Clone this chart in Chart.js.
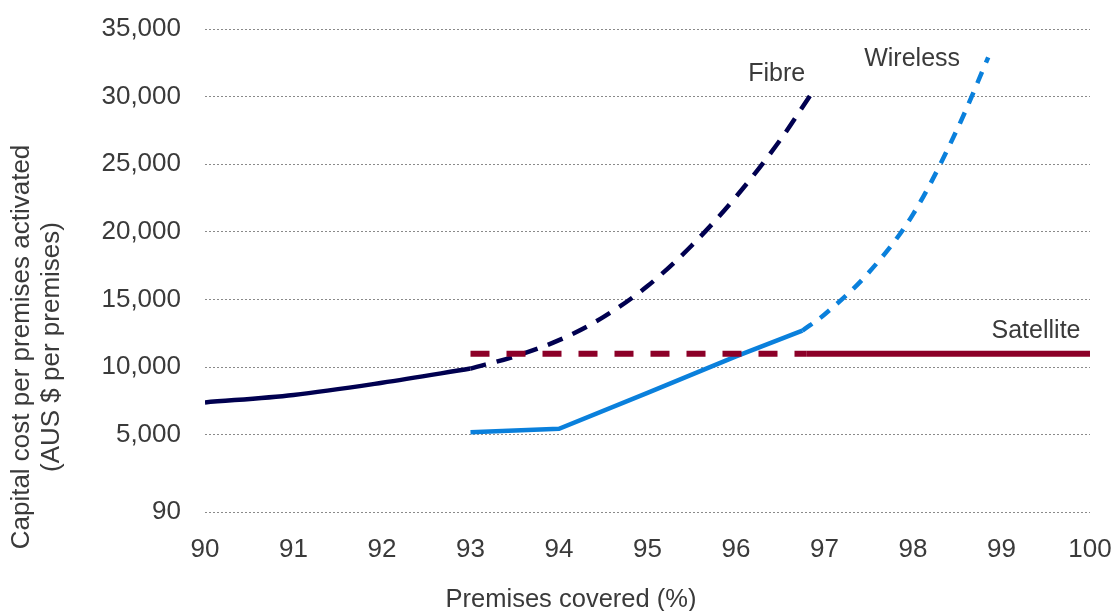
<!DOCTYPE html>
<html>
<head>
<meta charset="utf-8">
<script src="https://cdn.jsdelivr.net/npm/chart.js@4"></script>
<style>
  html, body { margin: 0; padding: 0; background: #ffffff; }
  #wrap { width: 1115px; height: 611px; }
</style>
</head>
<body>
<div id="wrap"><canvas id="c"></canvas></div>
<script>
// Premises covered (%) and capital cost per premises activated (AUS $)
const fibreSolidX = [90, 91, 92, 93];
const fibreSolidY = [7400, 7950, 8850, 9900];
const fibreDashX = [93, 93.5, 94, 94.5, 95, 95.5, 96, 96.5, 96.85];
const fibreDashY = [9900, 10800, 12000, 13700, 16000, 19000, 22600, 26800, 30200];

const wirelessSolidX = [93, 94, 95, 96, 96.75];
const wirelessSolidY = [5200, 5450, 8100, 10800, 12700];
const wirelessDashX = [96.75, 97, 97.5, 98, 98.5, 98.85];
const wirelessDashY = [12700, 13900, 17000, 21300, 27600, 32900];

const satelliteDashX = [93, 96.8];
const satelliteDashY = [11000, 11000];
const satelliteSolidX = [96.8, 100];
const satelliteSolidY = [11000, 11000];

const yTickValues = [-700, 5000, 10000, 15000, 20000, 25000, 30000, 35000];
const yTickLabels = ['90', '5,000', '10,000', '15,000', '20,000', '25,000', '30,000', '35,000'];

const seriesNames = ['Fibre', 'Wireless', 'Satellite'];
const noteX = [96.46, 97.99, 99.39];
const noteY = [31700, 32800, 12650];

const yTitleLines = ['Capital cost per premises activated', '(AUS $ per premises)'];
const xTitle = 'Premises covered (%)';

const NAVY = '#000050';
const BLUE = '#0a80dc';
const MAROON = '#8c0028';
const TEXT = '#3a3a3a';
const FONT = "'Liberation Sans', Arial, sans-serif";

function pts(xs, ys) { return xs.map((x, i) => ({ x: x, y: ys[i] })); }

function line(xs, ys, color, width, dash, smooth) {
  return {
    data: pts(xs, ys),
    borderColor: color,
    backgroundColor: color,
    borderWidth: width,
    borderDash: dash || [],
    borderCapStyle: 'butt',
    pointRadius: 0,
    cubicInterpolationMode: smooth ? 'monotone' : 'default',
    tension: 0,
    fill: false
  };
}

// Series names beside their curves, plus both axis titles
const notesPlugin = {
  id: 'seriesNotes',
  afterDatasetsDraw(chart) {
    const ctx = chart.ctx, xs = chart.scales.x, ys = chart.scales.y;
    ctx.save();
    ctx.fillStyle = TEXT;
    ctx.textAlign = 'center';
    ctx.textBaseline = 'middle';
    ctx.font = '25px ' + FONT;
    seriesNames.forEach((name, i) => {
      ctx.fillText(name, xs.getPixelForValue(noteX[i]), ys.getPixelForValue(noteY[i]));
    });
    ctx.font = '25.5px ' + FONT;
    ctx.fillText(xTitle, 571, 600);
    ctx.font = '26px ' + FONT;
    ctx.translate(37, 347);
    ctx.rotate(-Math.PI / 2);
    ctx.fillText(yTitleLines[0], 0, -15);
    ctx.fillText(yTitleLines[1], 0, 15);
    ctx.restore();
  }
};

new Chart(document.getElementById('c'), {
  type: 'line',
  data: {
    datasets: [
      line(satelliteDashX, satelliteDashY, MAROON, 6, [19, 17]),
      line(satelliteSolidX, satelliteSolidY, MAROON, 6),
      line(fibreSolidX, fibreSolidY, NAVY, 4.5, null, true),
      line(fibreDashX, fibreDashY, NAVY, 4.5, [16, 11], true),
      line(wirelessSolidX, wirelessSolidY, BLUE, 4.5),
      line(wirelessDashX, wirelessDashY, BLUE, 4.5, [12, 10], true)
    ]
  },
  options: {
    responsive: true,
    maintainAspectRatio: false,
    animation: false,
    layout: { padding: { top: 29, right: 25, left: 0, bottom: 0 } },
    plugins: { legend: { display: false }, tooltip: { enabled: false } },
    scales: {
      x: {
        type: 'linear',
        min: 90, max: 100,
        grid: { display: true, color: 'rgba(0,0,0,0)', drawTicks: true, tickLength: 22, tickColor: 'rgba(0,0,0,0)' },
        border: { display: false },
        ticks: {
          stepSize: 1,
          padding: 0,
          color: TEXT,
          font: { family: FONT, size: 26 },
          maxRotation: 0
        },
        afterFit(scale) { scale.height = 99; }
      },
      y: {
        type: 'linear',
        min: -700, max: 35000,
        afterBuildTicks(scale) { scale.ticks = yTickValues.map(v => ({ value: v })); },
        grid: { color: '#8a8a8a', lineWidth: 1, drawTicks: true, tickLength: 24, tickColor: 'rgba(0,0,0,0)' },
        border: { display: false, dash: [2, 2] },
        ticks: {
          padding: 0,
          color: TEXT,
          font: { family: FONT, size: 26 },
          callback(value, index) { return yTickLabels[index]; }
        },
        afterFit(scale) { scale.width = 205; }
      }
    }
  },
  plugins: [notesPlugin]
});
</script>
</body>
</html>
